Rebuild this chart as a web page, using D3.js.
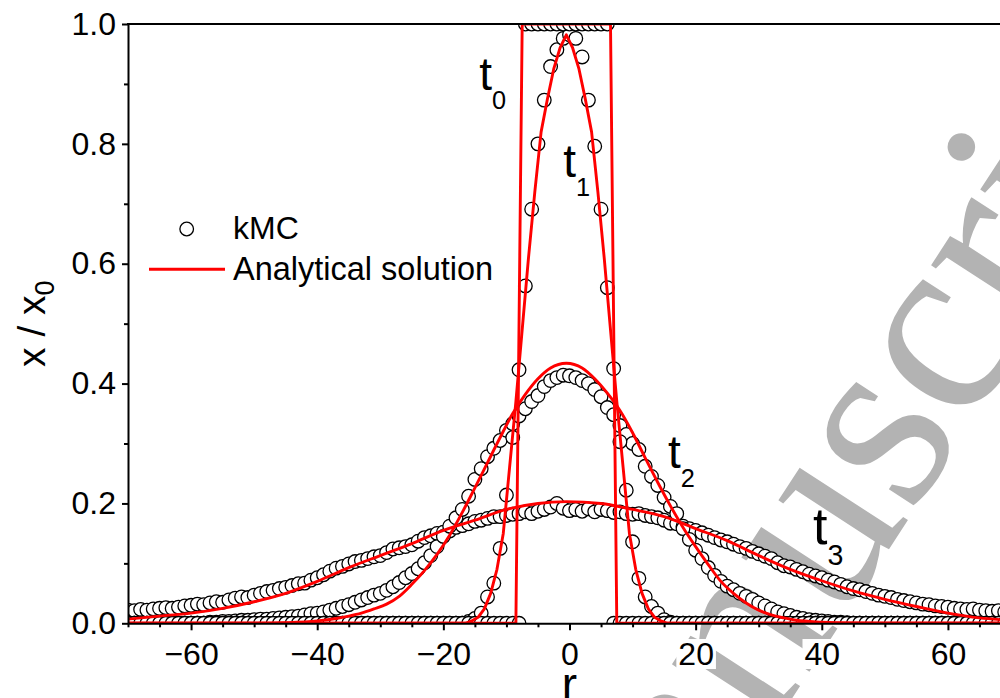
<!DOCTYPE html>
<html>
<head>
<meta charset="utf-8">
<script src="https://cdn.jsdelivr.net/npm/d3@7"></script>
<style>
  body { margin: 0; background: #fff; }
  svg { display: block; }
</style>
</head>
<body>
<svg id="chart" width="1000" height="698"></svg>
<script>
// Lattice sites r of the kMC simulation
const kmcR = [
  -70,-69,-68,-67,-66,-65,-64,-63,-62,-61,-60,-59,-58,-57,-56,-55,-54,-53,-52,-51,
  -50,-49,-48,-47,-46,-45,-44,-43,-42,-41,-40,-39,-38,-37,-36,-35,-34,-33,-32,-31,
  -30,-29,-28,-27,-26,-25,-24,-23,-22,-21,-20,-19,-18,-17,-16,-15,-14,-13,-12,-11,
  -10,-9,-8,-7,-6,-5,-4,-3,-2,-1,0,1,2,3,4,5,6,7,8,9,
  10,11,12,13,14,15,16,17,18,19,20,21,22,23,24,25,26,27,28,29,
  30,31,32,33,34,35,36,37,38,39,40,41,42,43,44,45,46,47,48,49,
  50,51,52,53,54,55,56,57,58,59,60,61,62,63,64,65,66,67,68,69,70
];

// kMC concentration profiles x/x0 at t0..t3 (one value per lattice site)
const kmcT0 = [
  0,0,0,0,0,0,0,0,0,0,0,0,0,0,0,0,0,0,0,0,
  0,0,0,0,0,0,0,0,0,0,0,0,0,0,0,0,0,0,0,0,
  0,0,0,0,0,0,0,0,0,0,0,0,0,0,0,0,0,0,0,0,
  0,0,0,1,1,1,1,1,1,1,1,1,1,1,1,1,1,0,0,0,
  0,0,0,0,0,0,0,0,0,0,0,0,0,0,0,0,0,0,0,0,
  0,0,0,0,0,0,0,0,0,0,0,0,0,0,0,0,0,0,0,0,
  0,0,0,0,0,0,0,0,0,0,0,0,0,0,0,0,0,0,0,0,0
];
const kmcT1 = [
  0,0,0,0,0,0,0,0,0,0,0,0,0,0,0,0,0,0,0,0,
  0,0,0,0,0,0,0,0,0,0,0,0,0,0,0,0,0,0,0,0,
  0,0,0,0,0,0,0,0,0,0,0,0,0,0,0.003,0.008,0.017,0.044,0.067,0.125,
  0.214,0.31,0.423,0.563,0.691,0.80,0.873,0.929,0.957,0.976,0.982,0.976,0.945,0.873,0.796,0.691,0.56,0.425,0.303,0.222,
  0.136,0.075,0.044,0.028,0.017,0.006,0.002,0,0,0,0,0,0,0,0,0,0,0,0,0,
  0,0,0,0,0,0,0,0,0,0,0,0,0,0,0,0,0,0,0,0,
  0,0,0,0,0,0,0,0,0,0,0,0,0,0,0,0,0,0,0,0,0
];
const kmcT2 = [
  0,0,0,0,0,0,0,0,0,0,0,0,0,0.002,0.002,0.003,0.003,0.004,0.005,0.005,
  0.006,0.007,0.007,0.008,0.009,0.010,0.011,0.012,0.014,0.016,0.017,0.019,0.022,0.025,0.028,0.031,0.035,0.039,0.043,0.047,
  0.050,0.055,0.061,0.068,0.076,0.083,0.091,0.101,0.113,0.128,0.145,0.162,0.176,0.190,0.212,0.240,0.258,0.278,0.292,0.305,
  0.322,0.333,0.346,0.358,0.370,0.380,0.395,0.405,0.410,0.414,0.413,0.410,0.405,0.400,0.390,0.378,0.360,0.348,0.330,0.315,
  0.300,0.290,0.262,0.245,0.230,0.210,0.195,0.183,0.158,0.140,0.122,0.108,0.093,0.080,0.070,0.062,0.056,0.050,0.045,0.040,
  0.034,0.029,0.024,0.019,0.016,0.013,0.010,0.008,0.006,0.005,0.004,0.003,0.002,0.002,0.001,0,0,0,0,0,
  0,0,0,0,0,0,0,0,0,0,0,0,0,0,0,0,0,0,0,0,0
];
const kmcT3 = [
  0.022,0.021,0.023,0.022,0.024,0.025,0.026,0.025,0.027,0.029,0.030,0.032,0.031,0.034,0.036,0.035,0.039,0.042,0.044,0.043,
  0.047,0.050,0.053,0.055,0.058,0.060,0.063,0.066,0.067,0.072,0.076,0.081,0.087,0.092,0.095,0.099,0.103,0.105,0.108,0.111,
  0.113,0.118,0.124,0.126,0.128,0.131,0.137,0.143,0.146,0.150,0.152,0.154,0.160,0.163,0.166,0.170,0.172,0.175,0.178,0.178,
  0.180,0.182,0.183,0.186,0.183,0.187,0.190,0.194,0.200,0.192,0.188,0.190,0.187,0.191,0.186,0.190,0.188,0.185,0.186,0.183,
  0.182,0.183,0.180,0.178,0.176,0.172,0.167,0.166,0.162,0.158,0.155,0.151,0.147,0.143,0.139,0.136,0.132,0.128,0.125,0.120,
  0.116,0.112,0.108,0.101,0.096,0.094,0.090,0.086,0.082,0.079,0.076,0.072,0.069,0.065,0.061,0.058,0.056,0.053,0.050,0.047,
  0.045,0.043,0.040,0.038,0.036,0.034,0.032,0.031,0.029,0.028,0.027,0.025,0.024,0.023,0.024,0.022,0.021,0.020,0.021,0.019,0.019
];

// Analytical solution, sampled positions and values
const anT0R = [-70, -8.5, -7.5, 6.5, 7.5, 70];
const anT0  = [0, 0, 1, 1, 0, 0];
const anT1R = [-70,-16.5,-15.5,-14.5,-13.5,-12.5,-11.5,-10.5,-9.5,-8.5,-7.5,-6.5,-5.5,-4.5,-3.5,-2.5,-1.5,-0.5,
               0.5,1.5,2.5,3.5,4.5,5.5,6.5,7.5,8.5,9.5,10.5,11.5,12.5,13.5,14.5,15.5,70];
const anT1  = [0,0,0.004,0.01,0.024,0.05,0.09,0.15,0.26,0.37,0.49,0.61,0.72,0.82,0.875,0.925,0.96,0.982,
               0.96,0.925,0.875,0.82,0.72,0.61,0.49,0.37,0.26,0.15,0.09,0.05,0.024,0.01,0.004,0,0];
const anT2R = [-70,-50,-45,-40,-37,-35,-33,-31,-29,-27,-25,-23,-21,-19,-17,-15,-13,-11,-9,-7,
               -5,-3,-0.5,2,4,6,8,10,12,14,16,18,20,22,24,26,28,30,32,34,36,40,44,50,70];
const anT2  = [0,0,0.001,0.004,0.008,0.012,0.017,0.024,0.032,0.045,0.065,0.088,0.115,0.147,0.185,0.226,0.268,0.31,0.35,0.382,
               0.408,0.426,0.434,0.426,0.408,0.384,0.355,0.318,0.276,0.235,0.196,0.16,0.128,0.098,0.07,0.05,0.034,0.022,0.014,0.009,
               0.005,0.002,0.0005,0,0];
const anT3R = [-70,-65,-60,-55,-50,-45,-40,-35,-30,-25,-20,-15,-10,-5,-0.5,5,10,15,20,25,30,35,40,45,50,55,60,65,70];
const anT3  = [0.007,0.012,0.017,0.025,0.036,0.05,0.07,0.093,0.113,0.133,0.155,0.172,0.19,0.2,0.203,
               0.2,0.19,0.178,0.158,0.138,0.113,0.09,0.071,0.054,0.04,0.028,0.017,0.009,0.005];

// Axis ticks
const xMajorTicks = [-60, -40, -20, 0, 20, 40, 60];
const xMinorTicks = [-70,-65,-55,-50,-45,-35,-30,-25,-15,-10,-5,5,10,15,25,30,35,45,50,55,65,70];
const yMajorTicks = [0, 0.2, 0.4, 0.6, 0.8, 1.0];
const yMinorTicks = [0.1, 0.3, 0.5, 0.7, 0.9];

// Curve labels
const curveLabels = [
  { name: "t", sub: "0", r: -14.3, v: 0.89, size: 46 },
  { name: "t", sub: "1", r: -1.0, v: 0.745, size: 46 },
  { name: "t", sub: "2", r: 15.6, v: 0.259, size: 46 },
  { name: "t", sub: "3", r: 38.6, v: 0.133, size: 52 }
];

const FONT = "'Liberation Sans', Arial, Helvetica, sans-serif";
const RED = "#ff0000";

const svg = d3.select("#chart");
svg.append("rect").attr("width", 1000).attr("height", 698).attr("fill", "#fff");

const x = d3.scaleLinear().domain([-70, 70]).range([128, 1011]);
const y = d3.scaleLinear().domain([0, 1]).range([623.3, 24]);

// grey stamp lettering behind the plot
svg.append("text")
  .attr("transform", "translate(580,1025) rotate(-57)")
  .attr("font-family", "'Liberation Serif', 'Times New Roman', serif")
  .attr("font-size", 260)
  .attr("fill", "#b3b3b3")
  .text("Manuscript");

svg.append("defs").append("clipPath").attr("id", "plotClip")
  .append("rect")
  .attr("x", x(-70)).attr("y", y(1))
  .attr("width", x(70) - x(-70)).attr("height", y(0) - y(1));

const plot = svg.append("g").attr("clip-path", "url(#plotClip)");

// kMC symbols
const kmcSeries = [kmcT3, kmcT2, kmcT1, kmcT0];
kmcSeries.forEach(vals => {
  plot.append("g").selectAll("circle")
    .data(kmcR.map((r, i) => ({ r, v: vals[i] })))
    .join("circle")
    .attr("cx", d => x(d.r))
    .attr("cy", d => y(d.v))
    .attr("r", 6.8)
    .attr("fill", "#fff")
    .attr("stroke", "#000")
    .attr("stroke-width", 1.3);
});

// analytical curves
const analytic = [
  { r: anT0R, v: anT0, curve: d3.curveLinear },
  { r: anT1R, v: anT1, curve: d3.curveLinear },
  { r: anT2R, v: anT2, curve: d3.curveMonotoneX },
  { r: anT3R, v: anT3, curve: d3.curveMonotoneX }
];
analytic.forEach(s => {
  const line = d3.line().x(d => x(d.r)).y(d => y(d.v)).curve(s.curve);
  plot.append("path")
    .datum(s.r.map((r, i) => ({ r, v: s.v[i] })))
    .attr("d", line)
    .attr("fill", "none")
    .attr("stroke", RED)
    .attr("stroke-width", 2.9)
    .attr("stroke-linejoin", "round");
});

// axes
function styleAxis(g) {
  g.select(".domain").attr("stroke", "#000").attr("stroke-width", 2);
  g.selectAll(".tick line").attr("stroke", "#000").attr("stroke-width", 2);
  g.selectAll(".tick text").attr("fill", "#000").attr("font-family", FONT).attr("font-size", 32);
}

const gxMinor = svg.append("g").attr("transform", `translate(0,${y(0)})`)
  .call(d3.axisBottom(x).tickValues(xMinorTicks).tickSize(4).tickSizeOuter(0).tickFormat(""));
gxMinor.select(".domain").remove();
gxMinor.selectAll(".tick line").attr("stroke", "#000").attr("stroke-width", 2);

const gyMinor = svg.append("g").attr("transform", `translate(${x(-70)},0)`)
  .call(d3.axisLeft(y).tickValues(yMinorTicks).tickSize(4).tickSizeOuter(0).tickFormat(""));
gyMinor.select(".domain").remove();
gyMinor.selectAll(".tick line").attr("stroke", "#000").attr("stroke-width", 2);

const gx = svg.append("g").attr("transform", `translate(0,${y(0)})`)
  .call(d3.axisBottom(x).tickValues(xMajorTicks).tickSize(7).tickPadding(12).tickSizeOuter(0)
    .tickFormat(d3.format("d")));
styleAxis(gx);

const gy = svg.append("g").attr("transform", `translate(${x(-70)},0)`)
  .call(d3.axisLeft(y).tickValues(yMajorTicks).tickSize(6).tickPadding(6).tickSizeOuter(0)
    .tickFormat(d3.format(".1f")));
styleAxis(gy);

// white boxes behind the tick labels
[gx, gy].forEach(g => {
  g.selectAll(".tick").each(function () {
    const t = d3.select(this).select("text");
    const b = t.node().getBBox();
    d3.select(this).insert("rect", "text")
      .attr("x", b.x - 2).attr("y", b.y + 3).attr("width", b.width + 4).attr("height", b.height - 6)
      .attr("fill", "#fff");
  });
});

// top frame line
svg.append("line")
  .attr("x1", x(-70) - 1).attr("x2", x(70))
  .attr("y1", y(1)).attr("y2", y(1))
  .attr("stroke", "#000").attr("stroke-width", 2);

// axis titles
svg.append("text")
  .attr("x", x(0)).attr("y", 700)
  .attr("text-anchor", "middle")
  .attr("font-family", FONT).attr("font-size", 46)
  .text("r");

const yTitle = svg.append("text")
  .attr("transform", `translate(45,${y(0.5)}) rotate(-90)`)
  .attr("text-anchor", "middle")
  .attr("font-family", FONT).attr("font-size", 39);
yTitle.append("tspan").text("x / x");
yTitle.append("tspan").attr("font-size", 27).attr("dy", 9).text("0");

// curve labels
curveLabels.forEach(c => {
  const t = svg.append("text")
    .attr("x", x(c.r)).attr("y", y(c.v))
    .attr("font-family", FONT).attr("font-size", c.size);
  t.append("tspan").text(c.name);
  t.append("tspan").attr("font-size", c.size * 0.55).attr("dy", c.size * 0.42).text(c.sub);
});

// legend
const lg = svg.append("g");
lg.append("circle").attr("cx", 186.7).attr("cy", 229).attr("r", 6.8)
  .attr("fill", "#fff").attr("stroke", "#000").attr("stroke-width", 1.3);
lg.append("text").attr("x", 233).attr("y", 239)
  .attr("font-family", FONT).attr("font-size", 32).text("kMC");
lg.append("line").attr("x1", 149).attr("x2", 225).attr("y1", 269.3).attr("y2", 269.3)
  .attr("stroke", RED).attr("stroke-width", 3);
lg.append("text").attr("x", 233).attr("y", 280)
  .attr("font-family", FONT).attr("font-size", 32.5).text("Analytical solution");
</script>
</body>
</html>
